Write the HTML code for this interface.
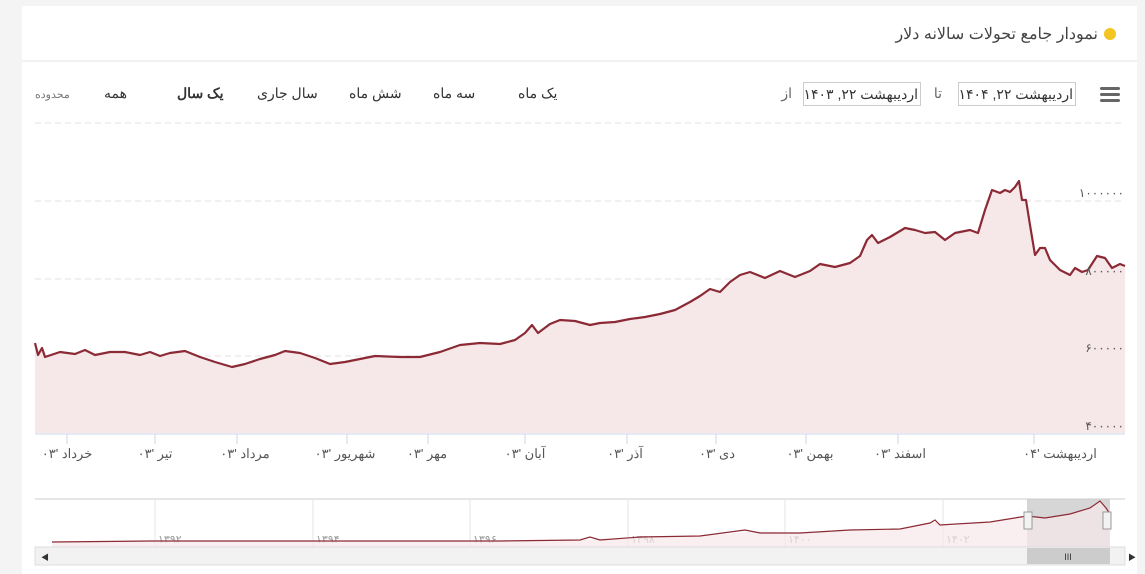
<!DOCTYPE html>
<html><head><meta charset="utf-8"><style>
body{margin:0;background:#f4f4f4;width:1145px;height:574px;overflow:hidden;font-family:"Liberation Sans","Noto Sans CJK SC",sans-serif;}
.card{position:absolute;left:22px;top:6px;width:1115px;height:568px;background:#fff;}
.t{position:absolute;direction:rtl;white-space:nowrap;color:#333;}
.c{position:absolute;direction:rtl;white-space:nowrap;width:120px;text-align:center;font-size:13px;color:#555;top:446px;}
.box{position:absolute;top:82px;height:22px;width:114px;border:1px solid #ccc;direction:rtl;font-size:14px;color:#333;line-height:22px;padding-right:2px;box-sizing:content-box;white-space:nowrap;overflow:hidden;letter-spacing:-0.3px;}
</style></head><body>
<div class="card"></div>
<svg width="1145" height="574" style="position:absolute;left:0;top:0" font-family="'Liberation Sans','Noto Sans CJK SC',sans-serif">
<line x1="22" y1="61" x2="1137" y2="61" stroke="#e6e6e6"/>
<circle cx="1110" cy="34" r="6" fill="#f2c520"/>
<rect x="1100" y="87" width="20" height="3" rx="1.5" fill="#666"/><rect x="1100" y="93" width="20" height="3" rx="1.5" fill="#666"/><rect x="1100" y="99" width="20" height="3" rx="1.5" fill="#666"/>
<g stroke="#e0e0e0" stroke-dasharray="6,4"><line x1="35" y1="123" x2="1125" y2="123"/><line x1="35" y1="201" x2="1125" y2="201"/><line x1="35" y1="279" x2="1125" y2="279"/><line x1="35" y1="356" x2="1125" y2="356"/></g>
<polygon fill="#f6e7e9" points="35,433 35,343 38,355 42,348 45,357 60,352 75,354 85,350 95,355 110,352 125,352 140,355 150,352 160,356 170,353 185,351 200,357 215,362 232,367 245,364 260,359 275,355 285,351 300,353 315,358 330,364 345,362 360,359 375,356 400,357 420,357 440,352 460,345 480,343 500,344 515,340 525,333 532,325 538,333 550,324 560,320 575,321 590,325 600,323 615,322 630,319 645,317 660,314 675,310 690,302 700,296 710,289 720,292 730,282 740,275 750,272 765,278 780,271 795,277 810,271 820,264 835,267 850,263 860,256 867,240 872,235 878,243 890,237 905,228 915,230 925,233 935,232 945,240 955,233 970,230 978,233 985,210 992,190 1000,193 1005,190 1010,192 1015,187 1019,181 1022,200 1026,200 1030,225 1035,255 1040,248 1045,248 1050,260 1060,270 1070,275 1075,268 1082,272 1088,270 1097,256 1105,258 1112,268 1120,264 1125,266 1125,433"/>
<polyline fill="none" stroke="#8b2a35" stroke-width="2.2" stroke-linejoin="round" points="35,343 38,355 42,348 45,357 60,352 75,354 85,350 95,355 110,352 125,352 140,355 150,352 160,356 170,353 185,351 200,357 215,362 232,367 245,364 260,359 275,355 285,351 300,353 315,358 330,364 345,362 360,359 375,356 400,357 420,357 440,352 460,345 480,343 500,344 515,340 525,333 532,325 538,333 550,324 560,320 575,321 590,325 600,323 615,322 630,319 645,317 660,314 675,310 690,302 700,296 710,289 720,292 730,282 740,275 750,272 765,278 780,271 795,277 810,271 820,264 835,267 850,263 860,256 867,240 872,235 878,243 890,237 905,228 915,230 925,233 935,232 945,240 955,233 970,230 978,233 985,210 992,190 1000,193 1005,190 1010,192 1015,187 1019,181 1022,200 1026,200 1030,225 1035,255 1040,248 1045,248 1050,260 1060,270 1070,275 1075,268 1082,272 1088,270 1097,256 1105,258 1112,268 1120,264 1125,266"/>
<line x1="35" y1="434" x2="1125" y2="434" stroke="#ccd6eb"/>
<g font-size="12" fill="#555" text-anchor="end"><text x="1124" y="197">۱۰۰۰۰۰۰</text><text x="1124" y="275">۸۰۰۰۰۰</text><text x="1124" y="352">۶۰۰۰۰۰</text><text x="1124" y="430">۴۰۰۰۰۰</text></g>
<g stroke="#ccd6eb"><line x1="67" y1="434" x2="67" y2="444"/><line x1="155" y1="434" x2="155" y2="444"/><line x1="237" y1="434" x2="237" y2="444"/><line x1="347" y1="434" x2="347" y2="444"/><line x1="428" y1="434" x2="428" y2="444"/><line x1="525" y1="434" x2="525" y2="444"/><line x1="627" y1="434" x2="627" y2="444"/><line x1="716" y1="434" x2="716" y2="444"/><line x1="806" y1="434" x2="806" y2="444"/><line x1="898" y1="434" x2="898" y2="444"/><line x1="1034" y1="434" x2="1034" y2="444"/></g>
<line x1="35" y1="499" x2="1125" y2="499" stroke="#ccc"/>
<g stroke="#e6e6e6"><line x1="155" y1="499" x2="155" y2="547"/><line x1="313" y1="499" x2="313" y2="547"/><line x1="470" y1="499" x2="470" y2="547"/><line x1="628" y1="499" x2="628" y2="547"/><line x1="785" y1="499" x2="785" y2="547"/><line x1="943" y1="499" x2="943" y2="547"/></g>
<g font-size="11" fill="#999"><text x="158" y="543">۱۳۹۲</text><text x="316" y="543">۱۳۹۴</text><text x="473" y="543">۱۳۹۶</text><text x="631" y="543">۱۳۹۸</text><text x="788" y="543">۱۴۰۰</text><text x="946" y="543">۱۴۰۲</text></g>
<rect x="1027" y="499" width="83" height="48" fill="#ccc" opacity="0.8"/>
<polygon fill="#f6e7e9" opacity="0.7" points="52,547 52,542 150,541 300,541 500,541 580,540 640,537 700,536 760,531 800,533 850,530 900,529 935,522 950,526 990,522 1027,516 1045,518 1070,514 1090,508 1100,501 1110,514 1110,547"/>
<polyline fill="none" stroke="#8b2a35" stroke-width="1.2" points="52,542 150,541 300,541 500,541 580,540 590,537 600,540 640,537 700,536 745,530 760,533 800,533 850,530 900,529 930,523 935,520 940,525 990,522 1027,516 1045,518 1070,514 1090,508 1100,501 1106,508 1110,514"/>
<rect x="1024" y="512" width="8" height="17" fill="#f2f2f2" stroke="#999"/><rect x="1103" y="512" width="8" height="17" fill="#f2f2f2" stroke="#999"/>
<rect x="35" y="547" width="1090" height="18" fill="#f2f2f2" stroke="#ddd"/>
<rect x="1027" y="548" width="83" height="16" fill="#ccc"/>
<text x="1068" y="560" font-size="9" fill="#333" text-anchor="middle">III</text>
<text x="41" y="560" font-size="8" fill="#333">◀</text><text x="1128" y="560" font-size="8" fill="#333">▶</text>
</svg>
<div class="t" style="right:47px;top:24px;font-size:16px;color:#444;">نمودار جامع تحولات سالانه دلار</div>
<div class="box" style="left:958px;">اردیبهشت ۲۲, ۱۴۰۴</div>
<div class="t" style="right:203px;top:85px;font-size:14px;color:#666;">تا</div>
<div class="box" style="left:803px;">اردیبهشت ۲۲, ۱۴۰۳</div>
<div class="t" style="right:353px;top:85px;font-size:14px;color:#666;">از</div>
<div class="t" style="left:518px;top:85px;font-size:14px;">یک ماه</div>
<div class="t" style="left:433px;top:85px;font-size:14px;">سه ماه</div>
<div class="t" style="left:349px;top:85px;font-size:14px;">شش ماه</div>
<div class="t" style="left:257px;top:85px;font-size:14px;">سال جاری</div>
<div class="t" style="left:177px;top:85px;font-size:14px;font-weight:bold;">یک سال</div>
<div class="t" style="left:104px;top:85px;font-size:14px;">همه</div>
<div class="t" style="left:35px;top:88px;font-size:11px;color:#777;">محدوده</div>
<div class="c" style="left:7px;">خرداد '۰۳</div>
<div class="c" style="left:95px;">تیر '۰۳</div>
<div class="c" style="left:185px;">مرداد '۰۳</div>
<div class="c" style="left:285px;">شهریور '۰۳</div>
<div class="c" style="left:367px;">مهر '۰۳</div>
<div class="c" style="left:465px;">آبان '۰۳</div>
<div class="c" style="left:565px;">آذر '۰۳</div>
<div class="c" style="left:657px;">دی '۰۳</div>
<div class="c" style="left:750px;">بهمن '۰۳</div>
<div class="c" style="left:840px;">اسفند '۰۳</div>
<div class="c" style="left:1000px;">اردیبهشت '۰۴</div>
</body></html>
